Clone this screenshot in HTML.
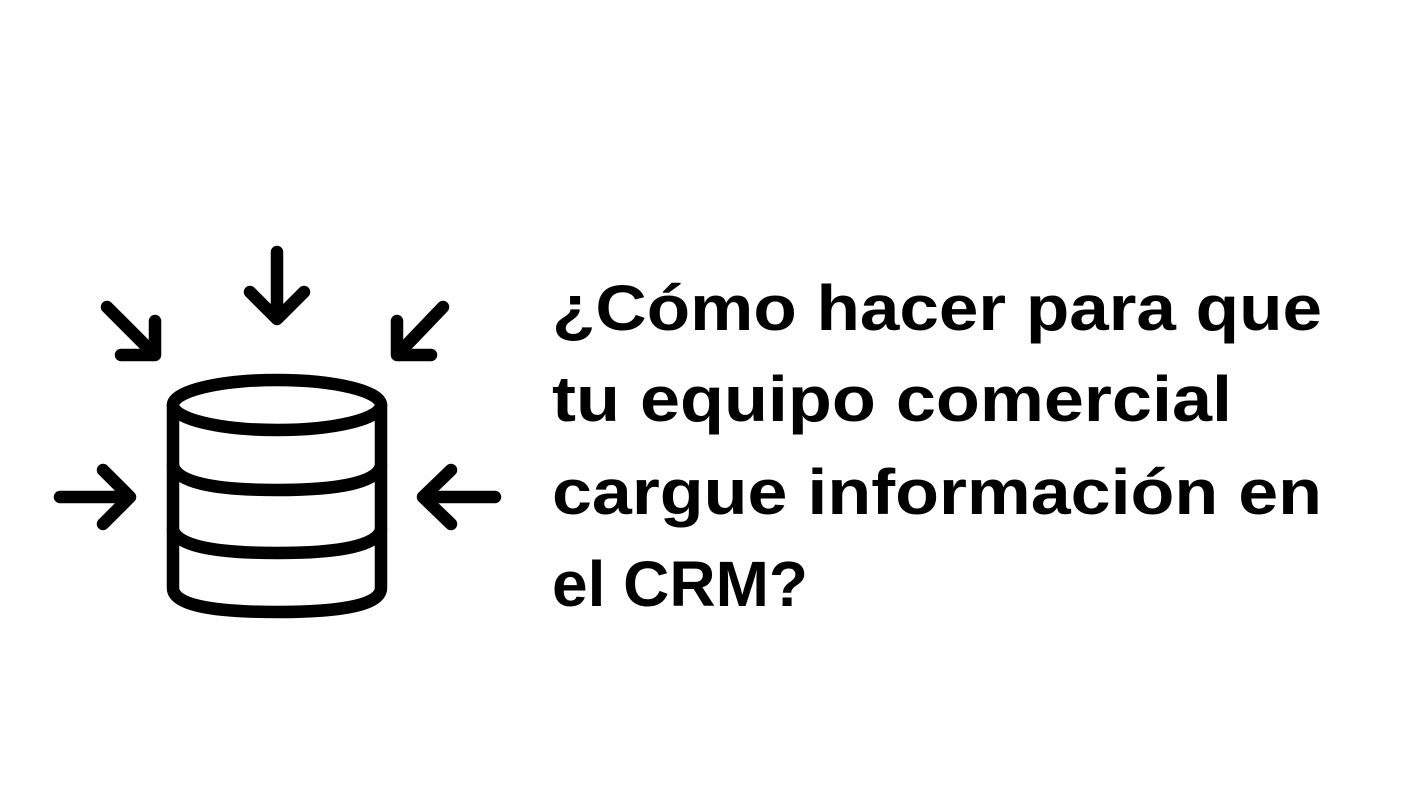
<!DOCTYPE html>
<html><head><meta charset="utf-8"><style>
html,body{margin:0;padding:0;background:#fff;}
svg{display:block;}
</style></head><body>
<svg width="1427" height="808" viewBox="0 0 1427 808" xmlns="http://www.w3.org/2000/svg">
<rect width="1427" height="808" fill="#fff"/>
<g fill="none" stroke="#000" stroke-width="12.5" stroke-linecap="round" stroke-linejoin="round">
  <ellipse cx="277" cy="405" rx="104" ry="25"/>
  <path d="M173 405 V588 Q173 612 277 612 Q381 612 381 588 V405"/>
  <path d="M173 466 Q180 490 277 490 Q374 490 381 466"/>
  <path d="M173 530 Q180 553 277 553 Q374 553 381 530"/>
  <path d="M277 252 V318"/>
  <path d="M250 292 L277 319 L304 292"/>
  <path d="M107 307 L153 353"/>
  <path d="M121 355 H155 V321"/>
  <path d="M443 307 L399 353"/>
  <path d="M397 321 V355 H431"/>
  <path d="M60 497 H128"/>
  <path d="M103 470 L130 497 L103 524"/>
  <path d="M495 497 H425"/>
  <path d="M451 470 L423 497 L451 524"/>
</g>
<g font-family="'Liberation Sans', sans-serif" font-weight="bold" font-size="64" fill="#000">
  <text x="552" y="330" textLength="770" lengthAdjust="spacingAndGlyphs">¿Cómo hacer para que</text>
  <text x="552" y="421" textLength="680" lengthAdjust="spacingAndGlyphs">tu equipo comercial</text>
  <text x="552" y="514" textLength="770" lengthAdjust="spacingAndGlyphs">cargue información en</text>
  <text x="552" y="606" textLength="256" lengthAdjust="spacingAndGlyphs">el CRM?</text>
</g>
</svg>
</body></html>
